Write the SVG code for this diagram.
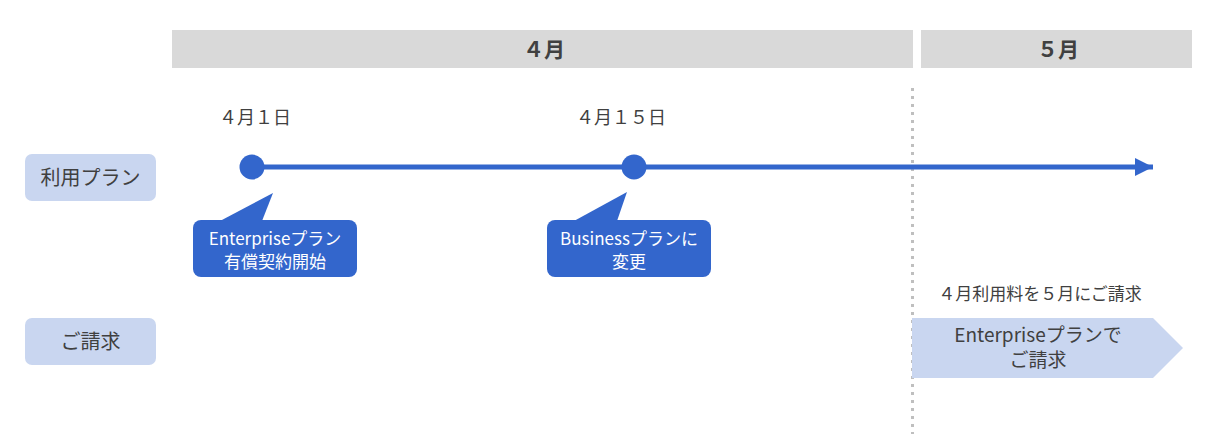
<svg xmlns="http://www.w3.org/2000/svg" width="1214" height="434" viewBox="0 0 1214 434">
<defs>
<style>
.t{font-family:"Noto Sans CJK JP","Noto Sans",sans-serif;fill:#404040;text-anchor:middle}
.w{font-family:"Noto Sans CJK JP","Noto Sans",sans-serif;fill:#ffffff;text-anchor:middle;font-size:17px}
.hdr{fill:#d9d9d9}
.lbl{fill:#c9d6f0}
.blue{fill:#3366cc}
</style>
<marker id="ah" markerWidth="18" markerHeight="18" refX="18" refY="9" orient="auto" markerUnits="userSpaceOnUse">
<path d="M0,0 L18,9 L0,18 Z" fill="#3366cc"/>
</marker>
</defs>
<rect width="1214" height="434" fill="#ffffff"/>

<g id="header-april">
<rect class="hdr" x="172" y="30" width="741" height="38"/>
<text class="t" x="544" y="57" font-size="21" font-weight="bold">４月</text>
</g>
<g id="header-may">
<rect class="hdr" x="921" y="30" width="271" height="38"/>
<text class="t" x="1058" y="57" font-size="21" font-weight="bold">５月</text>
</g>

<g id="label-plan">
<rect class="lbl" x="25" y="154" width="131" height="47" rx="7"/>
<text class="t" x="90.5" y="185" font-size="20">利用プラン</text>
</g>
<g id="label-billing">
<rect class="lbl" x="25" y="318" width="131" height="47" rx="7"/>
<text class="t" x="90.5" y="349" font-size="20">ご請求</text>
</g>

<g id="connectors">
<line x1="912.5" y1="88" x2="912.5" y2="434" stroke="#bfbfbf" stroke-width="3" stroke-dasharray="3,5"/>
<line x1="252" y1="167" x2="1153" y2="167" stroke="#3366cc" stroke-width="5" marker-end="url(#ah)"/>
</g>

<g id="date-apr1">
<text class="t" x="255" y="124" font-size="18">４月１日</text>
<circle class="blue" cx="252" cy="167" r="12.5"/>
</g>
<g id="date-apr15">
<text class="t" x="621" y="124" font-size="18">４月１５日</text>
<circle class="blue" cx="634" cy="167" r="12.5"/>
</g>

<g id="callout-enterprise">
<rect class="blue" x="193" y="220" width="164" height="57" rx="8"/>
<path class="blue" d="M220,221 L273,193 L262,221 Z"/>
<text class="w" x="275" y="245">Enterpriseプラン</text>
<text class="w" x="275" y="268">有償契約開始</text>
</g>
<g id="callout-business">
<rect class="blue" x="547" y="220" width="164" height="57" rx="8"/>
<path class="blue" d="M574,221 L627,192 L617,221 Z"/>
<text class="w" x="629" y="245">Businessプランに</text>
<text class="w" x="629" y="268">変更</text>
</g>

<g id="billing-note">
<text class="t" x="1040" y="300" font-size="17">４月利用料を５月にご請求</text>
</g>
<g id="billing-arrow">
<path class="lbl" d="M912,318 L1153,318 L1183,348 L1153,378 L912,378 Z"/>
<text class="t" x="1038" y="342" font-size="19">Enterpriseプランで</text>
<text class="t" x="1038" y="367" font-size="19">ご請求</text>
</g>
</svg>
